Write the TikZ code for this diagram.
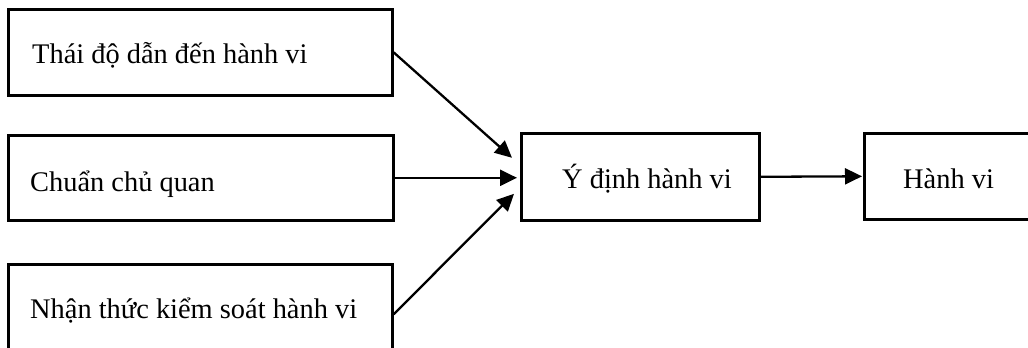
\documentclass[tikz,border=0pt]{standalone}
\usepackage{fontspec}
\setmainfont{Liberation Serif}
\usetikzlibrary{arrows.meta,calc}
\begin{document}
\begin{tikzpicture}[x=1pt,y=-1pt,
  box/.style={draw=black,line width=2.6pt,rectangle,inner sep=0pt,anchor=north west},
  lbl/.style={anchor=base west,inner sep=0pt,font=\fontsize{28.4}{34}\selectfont},
  conn/.style={line width=2.3pt,-{Triangle[length=17pt,width=16pt]}}]
\useasboundingbox (0,0) rectangle (1028,348);
\clip (0,0) rectangle (1028,348);
\fill[white] (0,0) rectangle (1028,348);
% boxes
\node[box,minimum width=384pt,minimum height=86pt] (b1) at (7,8) {};
\node[box,minimum width=385pt,minimum height=85pt] (b2) at (7,134) {};
\node[box,minimum width=384pt,minimum height=100pt] (b3) at (7,263) {};
\node[box,minimum width=238pt,minimum height=87pt] (b4) at (520,132) {};
\node[box,minimum width=172pt,minimum height=86pt] (b5) at (863,132) {};
% texts
\node[lbl] (t1) at (32,63) {Thái độ dẫn đến hành vi};
\node[lbl] (t2) at (30,191) {Chuẩn chủ quan};
\node[lbl] (t3) at (30,318) {Nhận thức kiểm soát hành vi};
\node[lbl] (t4) at (562,188) {Ý định hành vi};
\node[lbl] (t5) at (903,188) {Hành vi};
% target points
\coordinate (p1) at ($(b4.west)+(-8,-19)$);
\coordinate (p2) at ($(b4.west)+(-3,0)$);
\coordinate (p3) at ($(b4.west)+(-6,17)$);
% connectors
\draw[conn] (b1.east) -- (p1);
\draw[conn] (b2.east) -- (b2.east -| p2);
\draw[conn] (b3.east) -- (p3);
\draw[conn] (b4.east) -- ($(b5.west)+(-1,0)$);
\end{tikzpicture}
\end{document}
